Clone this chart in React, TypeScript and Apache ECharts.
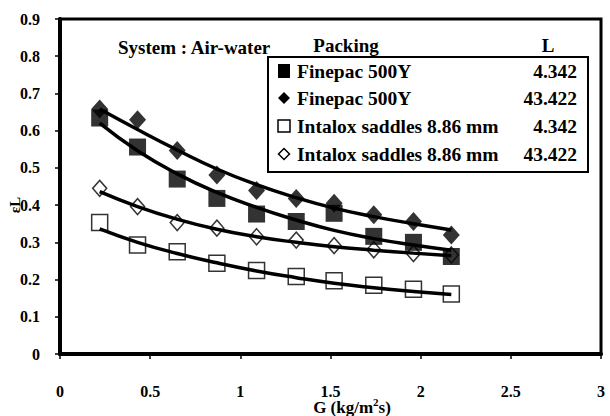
import React, { useEffect, useRef } from "react";
import * as echarts from "echarts";

// G (kg/m2s) values of the measured points
const G = [0.22, 0.43, 0.65, 0.87, 1.09, 1.31, 1.52, 1.74, 1.96, 2.17];

// measured points
const finepac4 = [0.634, 0.556, 0.47, 0.418, 0.376, 0.356, 0.378, 0.316, 0.3, 0.262];
const finepac43 = [0.658, 0.629, 0.547, 0.481, 0.439, 0.418, 0.405, 0.374, 0.356, 0.32];
const intalox4 = [0.353, 0.293, 0.275, 0.244, 0.224, 0.208, 0.197, 0.185, 0.174, 0.161];
const intalox43 = [0.445, 0.396, 0.353, 0.338, 0.315, 0.306, 0.291, 0.28, 0.27, 0.266];

// fitted curves at the same G values
const fitFinepac4 = [0.62, 0.546, 0.484, 0.434, 0.394, 0.36, 0.332, 0.31, 0.293, 0.279];
const fitFinepac43 = [0.658, 0.603, 0.548, 0.497, 0.455, 0.42, 0.392, 0.369, 0.35, 0.333];
const fitIntalox4 = [0.336, 0.3, 0.27, 0.245, 0.223, 0.205, 0.19, 0.178, 0.168, 0.16];
const fitIntalox43 = [0.436, 0.396, 0.362, 0.335, 0.315, 0.3, 0.288, 0.279, 0.271, 0.264];

const legendPacking = ["Finepac 500Y", "Finepac 500Y", "Intalox saddles 8.86 mm", "Intalox saddles 8.86 mm"];
const legendL = ["4.342", "43.422", "4.342", "43.422"];
const legendHeaderPacking = "Packing";
const legendHeaderL = "L";
const systemText = "System : Air-water";
const xTitle = ["G (kg/m", "2", "s)"];
const yTitle = "εL";

const FAMILY = "Liberation Serif";

export default function App() {
  const ref = useRef<HTMLDivElement>(null);
  useEffect(() => {
    if (!ref.current) return;
    const chart = echarts.init(ref.current, undefined, { renderer: "svg" });
    const pts = (v: number[]) => G.map((g, i) => [g, v[i]]);
    const txt = (px: number) => ({ fontFamily: FAMILY, fontWeight: "bold", fontSize: px, fill: "#000" });
    const axisLabel = (margin: number) => ({
      margin,
      color: "#000",
      fontWeight: "bold" as const,
      fontSize: 16,
      fontFamily: FAMILY,
    });
    const scatter = (data: number[], symbol: string, size: number | number[], filled: boolean) => ({
      type: "scatter",
      data: pts(data),
      symbol,
      symbolSize: size,
      z: 2,
      itemStyle: filled
        ? { color: "#000" }
        : { color: "#fff", borderColor: "#000", borderWidth: 1.5 },
    });
    const fit = (data: number[]) => ({
      type: "line",
      data: pts(data),
      smooth: true,
      showSymbol: false,
      z: 3,
      lineStyle: { color: "#000", width: 3.5 },
    });

    const rowY = [71, 98, 126, 154];
    const legendEls: any[] = [
      {
        type: "rect",
        shape: { x: 268, y: 57, width: 320, height: 115 },
        style: { fill: "#fff", stroke: "#000", lineWidth: 2 },
        z: 10,
      },
    ];
    const markerFor = (i: number, y: number) => {
      const cx = 284;
      if (i === 0)
        return { type: "rect", shape: { x: cx - 6, y: y - 7, width: 12, height: 14 }, style: { fill: "#000" }, z: 11 };
      if (i === 1)
        return {
          type: "polygon",
          shape: { points: [[cx, y - 6], [cx + 6, y], [cx, y + 6], [cx - 6, y]] },
          style: { fill: "#000" },
          z: 11,
        };
      if (i === 2)
        return {
          type: "rect",
          shape: { x: cx - 6, y: y - 6, width: 12, height: 12 },
          style: { fill: "#fff", stroke: "#000", lineWidth: 1.5 },
          z: 11,
        };
      return {
        type: "polygon",
        shape: { points: [[cx, y - 5.5], [cx + 5.5, y], [cx, y + 5.5], [cx - 5.5, y]] },
        style: { fill: "#fff", stroke: "#000", lineWidth: 1.5 },
        z: 11,
      };
    };
    legendPacking.forEach((name, i) => {
      const y = rowY[i];
      legendEls.push(markerFor(i, y));
      legendEls.push({
        type: "text",
        x: 297,
        y,
        z: 11,
        style: { text: name, ...txt(19.5), align: "left", verticalAlign: "middle" },
      });
      legendEls.push({
        type: "text",
        x: 577,
        y,
        z: 11,
        style: { text: legendL[i], ...txt(19.5), align: "right", verticalAlign: "middle" },
      });
    });

    chart.setOption({
      animation: false,
      backgroundColor: "#fff",
      grid: {
        left: 60,
        right: 9,
        top: 19,
        bottom: 62,
        show: true,
        borderColor: "#000",
        borderWidth: 3,
        backgroundColor: "transparent",
      },
      xAxis: {
        type: "value",
        min: 0,
        max: 3,
        interval: 0.5,
        axisLine: { onZero: false, lineStyle: { color: "#000", width: 4 } },
        axisTick: { inside: false, length: 5, lineStyle: { color: "#000", width: 1.5 } },
        splitLine: { show: false },
        axisLabel: axisLabel(29),
      },
      yAxis: {
        type: "value",
        min: 0,
        max: 0.9,
        interval: 0.1,
        axisLine: { onZero: false, lineStyle: { color: "#000", width: 4 } },
        axisTick: { inside: false, length: 5, lineStyle: { color: "#000", width: 1.5 } },
        splitLine: { show: false },
        axisLabel: axisLabel(20),
      },
      series: [
        scatter(intalox43, "diamond", [14, 16], false),
        scatter(intalox4, "rect", 16, false),
        scatter(finepac43, "diamond", [17, 19], true),
        scatter(finepac4, "rect", 17, true),
        fit(fitIntalox43),
        fit(fitIntalox4),
        fit(fitFinepac43),
        fit(fitFinepac4),
      ],
      graphic: [
        {
          type: "text",
          x: 118,
          y: 47,
          z: 10,
          style: { text: systemText, ...txt(19), align: "left", verticalAlign: "middle" },
        },
        {
          type: "text",
          x: 346,
          y: 45,
          z: 10,
          style: { text: legendHeaderPacking, ...txt(19), align: "center", verticalAlign: "middle" },
        },
        {
          type: "text",
          x: 548,
          y: 45,
          z: 10,
          style: { text: legendHeaderL, ...txt(19), align: "center", verticalAlign: "middle" },
        },
        ...legendEls,
        {
          type: "text",
          x: 352,
          y: 406,
          z: 10,
          style: {
            text: `{a|${xTitle[0]}}{s|${xTitle[1]}}{a|${xTitle[2]}}`,
            ...txt(17),
            align: "center",
            verticalAlign: "middle",
            rich: {
              a: { ...txt(17), lineHeight: 20, verticalAlign: "bottom" },
              s: { ...txt(11), lineHeight: 20, verticalAlign: "top", padding: [0, 0, 8, 0] },
            },
          },
        },
        {
          type: "text",
          x: 15,
          y: 205,
          rotation: Math.PI / 2,
          z: 10,
          style: { text: yTitle, ...txt(15), align: "center", verticalAlign: "middle" },
        },
      ],
    });
    return () => chart.dispose();
  }, []);
  return (
    <div
      ref={ref}
      style={{ position: "fixed", left: 0, top: 0, width: 610, height: 416, background: "#fff" }}
    />
  );
}
